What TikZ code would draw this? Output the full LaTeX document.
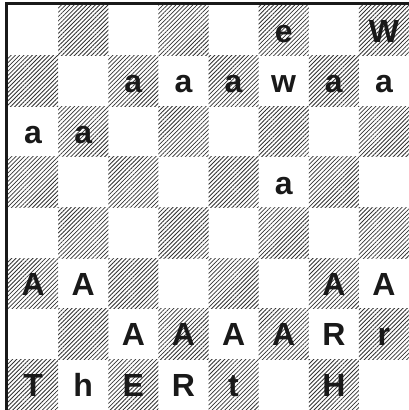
\documentclass[tikz,border=0pt]{standalone}
\usepackage{fontspec}
\setmainfont{Liberation Sans}
\usetikzlibrary{patterns.meta}
\begin{document}
\begin{tikzpicture}[x=1pt,y=-1pt,
  hatch/.style={pattern={Lines[angle=45,distance=3pt,line width=0.8pt]},pattern color=black!80},
  piece/.style={font=\fontsize{32}{32}\selectfont\bfseries, anchor=base, inner sep=0pt, text=black!90},
  border/.style={line width=3pt, draw=black!90}]
\useasboundingbox (0,0) rectangle (409,410);
\def\sx{50.125}\def\sy{50.6}
\foreach \r in {1,...,8}{\foreach \c in {1,...,8}{
  \pgfmathtruncatemacro{\sqpar}{mod(\r+\c,2)}
  \ifnum\sqpar=1
    \fill[hatch] ({8+(\c-1)*\sx},{5+(\r-1)*\sy}) rectangle ({8+\c*\sx},{5+\r*\sy});
  \fi}}
\draw[border] (6.5,410) -- (6.5,3.5) -- (409,3.5);
\foreach \r/\c/\t/\n in {1/6/e/p16, 1/8/W/p18,
  2/3/a/p23, 2/4/a/p24, 2/5/a/p25, 2/6/w/p26, 2/7/a/p27, 2/8/a/p28,
  3/1/a/p31, 3/2/a/p32, 4/6/a/p46,
  6/1/A/p61, 6/2/A/p62, 6/7/A/p67, 6/8/A/p68,
  7/3/A/p73, 7/4/A/p74, 7/5/A/p75, 7/6/A/p76, 7/7/R/p77, 7/8/r/p78,
  8/1/T/p81, 8/2/h/p82, 8/3/E/p83, 8/4/R/p84, 8/5/t/p85, 8/7/H/p87}
  \node[piece] (\n) at ({8+(\c-0.5)*\sx},{5+(\r-0.5)*\sy+12}) {\t};
\end{tikzpicture}
\end{document}
